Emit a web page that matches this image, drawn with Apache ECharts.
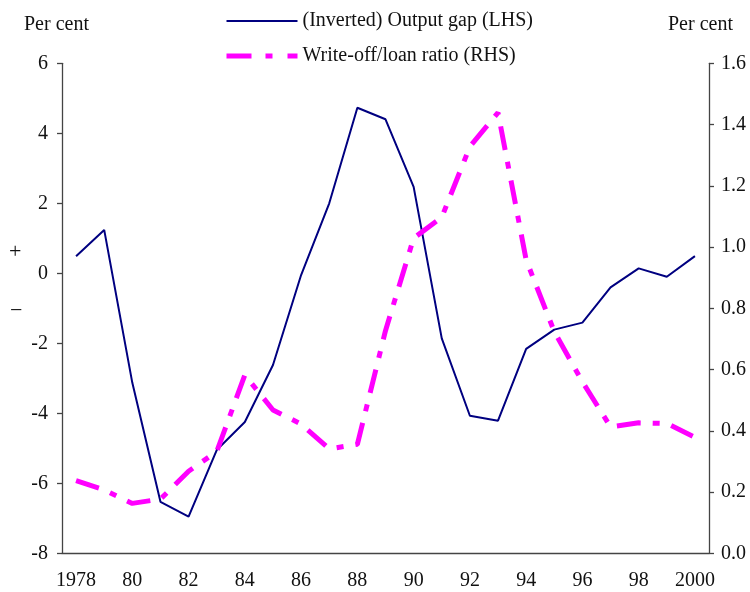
<!DOCTYPE html>
<html>
<head>
<meta charset="utf-8">
<script src="https://cdn.jsdelivr.net/npm/echarts@6/dist/echarts.min.js"></script>
<style>html,body{margin:0;padding:0;background:#fff}#c{width:750px;height:592px}</style>
</head>
<body>
<div id="c"></div>
<script>
const years = ['1978','1979','1980','1981','1982','1983','1984','1985','1986','1987','1988','1989','1990','1991','1992','1993','1994','1995','1996','1997','1998','1999','2000'];
const yearLabels = ['1978','','80','','82','','84','','86','','88','','90','','92','','94','','96','','98','','2000'];
const outputGap = [0.49,1.24,-3.13,-6.53,-6.95,-5.05,-4.25,-2.62,-0.05,2.0,4.73,4.4,2.47,-1.86,-4.07,-4.21,-2.16,-1.61,-1.41,-0.4,0.14,-0.1,0.49];
const writeOff = [0.237,0.207,0.163,0.177,0.268,0.332,0.582,0.468,0.422,0.341,0.356,0.727,1.029,1.097,1.328,1.439,0.958,0.724,0.56,0.413,0.426,0.424,0.379];
const leftTicks = {min:-8,max:6,interval:2};
const rightTicks = {min:0,max:1.6,interval:0.2};

const FONT = '"Liberation Serif", "Times New Roman", serif';
const chart = echarts.init(document.getElementById('c'), null, {renderer:'canvas'});
chart.setOption({
  animation:false,
  backgroundColor:'#fff',
  textStyle:{fontFamily:FONT},
  grid:{left:62,right:41,top:63.3,bottom:38.7,containLabel:false},
  legend:{
    orient:'vertical', left:224, top:11, padding:0, itemGap:15, itemWidth:71, itemHeight:14,
    itemStyle:{opacity:0},
    textStyle:{fontFamily:FONT,fontSize:20,color:'#111'},
    data:[
      {name:'(Inverted) Output gap (LHS)', lineStyle:{width:2}},
      {name:'Write-off/loan ratio (RHS)', lineStyle:{width:5,type:[25,14,7,15]}}
    ]
  },
  xAxis:{
    type:'category', data:years, boundaryGap:true,
    axisLine:{onZero:false,lineStyle:{color:'#444',width:1.3}},
    axisTick:{inside:true,length:6,interval:0,lineStyle:{color:'#444',width:1.3}},
    axisLabel:{interval:0,margin:17,fontSize:20,color:'#111',fontFamily:FONT,
      formatter:(v,i)=>yearLabels[i]},
    splitLine:{show:false}
  },
  yAxis:[{
    type:'value', position:'left', min:leftTicks.min, max:leftTicks.max, interval:leftTicks.interval,
    axisLine:{show:true,onZero:false,lineStyle:{color:'#444',width:1.3}},
    axisTick:{show:true,length:5,lineStyle:{color:'#444',width:1.3}},
    axisLabel:{margin:14,fontSize:20,color:'#111',fontFamily:FONT},
    splitLine:{show:false}
  },{
    type:'value', position:'right', min:rightTicks.min, max:rightTicks.max, interval:rightTicks.interval,
    axisLine:{show:true,onZero:false,lineStyle:{color:'#444',width:1.3}},
    axisTick:{show:true,length:5,lineStyle:{color:'#444',width:1.3}},
    axisLabel:{margin:12,fontSize:20,color:'#111',fontFamily:FONT,formatter:v=>v.toFixed(1)},
    splitLine:{show:false}
  }],
  graphic:[
    {type:'text',left:24,top:15,style:{text:'Per cent',font:'20px '+FONT,fill:'#111'}},
    {type:'text',left:668,top:15,style:{text:'Per cent',font:'20px '+FONT,fill:'#111'}},
    {type:'text',left:9,top:241,style:{text:'+',font:'22px '+FONT,fill:'#111'}},
    {type:'text',left:10,top:300,style:{text:'\u2212',font:'22px '+FONT,fill:'#111'}}
  ],
  series:[{
    name:'(Inverted) Output gap (LHS)', type:'line', yAxisIndex:0, data:outputGap,
    symbol:'none', lineStyle:{color:'#000080',width:2}, itemStyle:{color:'#000080'}
  },{
    name:'Write-off/loan ratio (RHS)', type:'line', yAxisIndex:1, data:writeOff,
    symbol:'none', lineStyle:{color:'#ff00ff',width:5,type:[24,12,7,12],cap:'butt'}, itemStyle:{color:'#ff00ff'}
  }]
});
</script>
</body>
</html>
